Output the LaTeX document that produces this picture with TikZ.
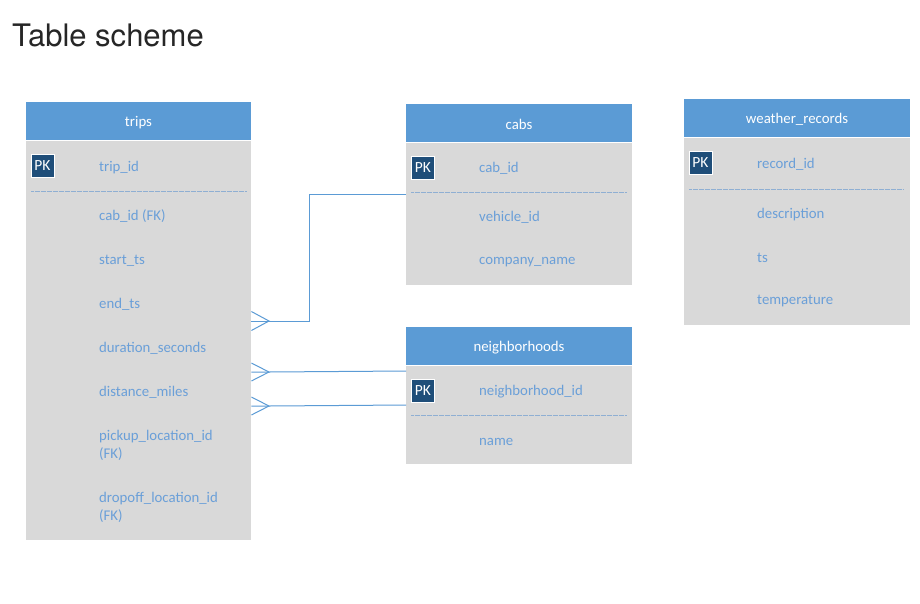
\documentclass[tikz,border=0pt]{standalone}
\usepackage{fontspec}
\setmainfont{Carlito}
\newfontfamily\titlefont{TeX Gyre Heros}
\definecolor{hdr}{HTML}{5B9BD5}
\definecolor{bodyc}{HTML}{D9D9D9}
\definecolor{fld}{HTML}{6A9FD8}
\definecolor{pkc}{HTML}{1F4E79}
\definecolor{sepc}{HTML}{8FAFD3}
\definecolor{ttl}{HTML}{262626}
\begin{document}
\begin{tikzpicture}[x=1pt,y=-1pt,
  hdrbox/.style={fill=hdr,draw=none,anchor=north west,inner sep=0pt},
  bodybox/.style={fill=bodyc,draw=none,anchor=north west,inner sep=0pt},
  hdrtext/.style={text=white,font=\fontsize{14.8}{18}\selectfont,inner sep=0pt,yshift=-1.5pt},
  fieldtext/.style={text=fld,font=\fontsize{14.8}{18}\selectfont,anchor=west,inner sep=0pt,align=left,yshift=-1.5pt},
  pkbox/.style={fill=pkc,draw=white,line width=0.6pt,minimum width=23pt,minimum height=23pt,inner sep=0pt,text=white,font=\fontsize{15.5}{17}\selectfont},
  sepline/.style={draw=sepc,line width=0.7pt,dash pattern=on 0.6pt off 0.6pt},
  rel/.style={draw=hdr,line width=1pt}]
\useasboundingbox (0,0) rectangle (920,603);
\fill[white] (0,0) rectangle (920,603);
% title
\node[anchor=base west,inner sep=0pt,text=ttl,font=\titlefont\fontsize{31}{36}\selectfont] (title) at (12,46.5) {Table scheme};

% trips
\node[hdrbox,minimum width=225pt,minimum height=38pt] (tripsH) at (26,102) {};
\node[bodybox,minimum width=225pt,minimum height=399pt] (trips) at (26,141) {};
\node[hdrtext] (tripsT) at (138.5,121) {trips};
\node[pkbox] (tripsPK) at (42.5,165.5) {PK};
\node[fieldtext] (t1) at (99,166) {trip\_id};
\draw[sepline] (31,191.5) -- (246,191.5);
\node[fieldtext] (t2) at (99,215) {cab\_id (FK)};
\node[fieldtext] (t3) at (99,259) {start\_ts};
\node[fieldtext] (t4) at (99,303) {end\_ts};
\node[fieldtext] (t5) at (99,347) {duration\_seconds};
\node[fieldtext] (t6) at (99,391) {distance\_miles};
\node[fieldtext] (t7) at (99,444) {pickup\_location\_id\\(FK)};
\node[fieldtext] (t8) at (99,506) {dropoff\_location\_id\\(FK)};

% cabs
\node[hdrbox,minimum width=226pt,minimum height=38pt] (cabsH) at (406,104) {};
\node[bodybox,minimum width=226pt,minimum height=142pt] (cabs) at (406,143) {};
\node[hdrtext] (cabsT) at (519,123) {cabs};
\node[pkbox] (cabsPK) at (423,168) {PK};
\node[fieldtext] (c1) at (479,167) {cab\_id};
\draw[sepline] (411,192.5) -- (626,192.5);
\node[fieldtext] (c2) at (479,216) {vehicle\_id};
\node[fieldtext] (c3) at (479,261) {company\_name};

% neighborhoods
\node[hdrbox,minimum width=226pt,minimum height=38pt] (nbH) at (406,327) {};
\node[bodybox,minimum width=226pt,minimum height=98pt] (nb) at (406,366) {};
\node[hdrtext] (nbT) at (519,346) {neighborhoods};
\node[pkbox] (nbPK) at (423,390.5) {PK};
\node[fieldtext] (n1) at (479,390) {neighborhood\_id};
\draw[sepline] (411,415.5) -- (626,415.5);
\node[fieldtext] (n2) at (479,440) {name};

% weather_records
\node[hdrbox,minimum width=226pt,minimum height=38pt] (wrH) at (684,99) {};
\node[bodybox,minimum width=226pt,minimum height=187pt] (wr) at (684,138) {};
\node[hdrtext] (wrT) at (797,118) {weather\_records};
\node[pkbox] (wrPK) at (700.5,163) {PK};
\node[fieldtext] (w1) at (757,163) {record\_id};
\draw[sepline] (689,189) -- (903,189);
\node[fieldtext] (w2) at (757,213) {description};
\node[fieldtext] (w3) at (757,256) {ts};
\node[fieldtext] (w4) at (757,300) {temperature};

% relations
\coordinate (r1a) at (trips.east |- 0,321);
\coordinate (r1v) at (269,321);
\coordinate (r1b) at (cabs.west |- 0,194);
\draw[rel] (r1b) -- (309,194) -- (309,321) -- (r1a);
\draw[rel] ([yshift=-9.5pt]r1a) -- (r1v) -- ([yshift=9.5pt]r1a);

\coordinate (r2a) at (trips.east |- 0,372);
\coordinate (r2v) at (269,372);
\coordinate (r2b) at (nb.west |- 0,371);
\draw[rel] (r2b) -- (r2v) -- (r2a);
\draw[rel] ([yshift=-9pt]r2a) -- (r2v) -- ([yshift=9pt]r2a);

\coordinate (r3a) at (trips.east |- 0,406);
\coordinate (r3v) at (269,406);
\coordinate (r3b) at (nb.west |- 0,405);
\draw[rel] (r3b) -- (r3v) -- (r3a);
\draw[rel] ([yshift=-9pt]r3a) -- (r3v) -- ([yshift=9pt]r3a);
\end{tikzpicture}
\end{document}
